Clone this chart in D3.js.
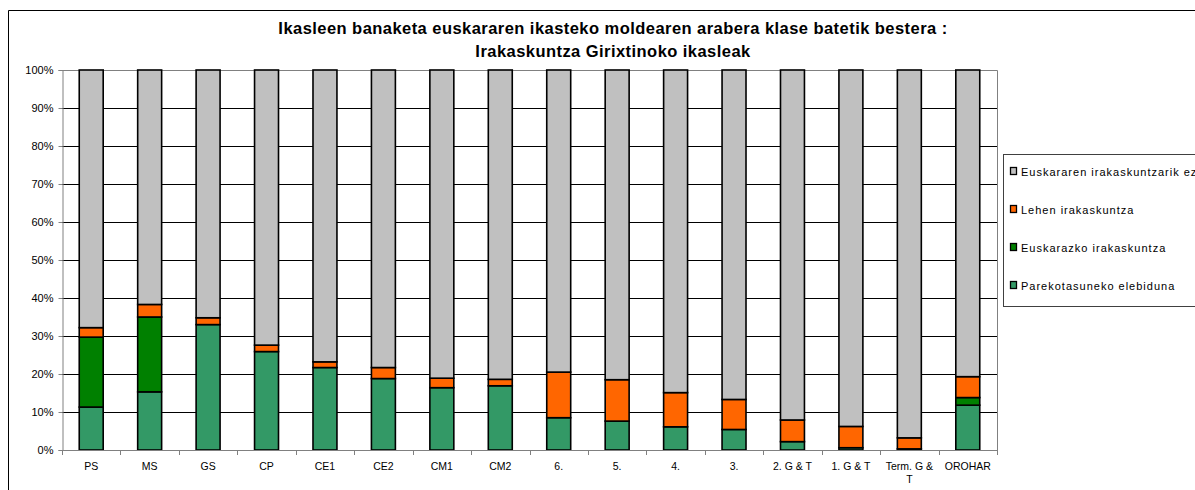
<!DOCTYPE html>
<html>
<head>
<meta charset="utf-8">
<script src="https://cdn.jsdelivr.net/npm/d3@7"></script>
<style>
  body { margin: 0; background: #fff; }
  text { font-family: Arial, "Liberation Sans", sans-serif; }
</style>
</head>
<body>
<script>
// categories (classes)
var categories = ["PS", "MS", "GS", "CP", "CE1", "CE2", "CM1", "CM2", "6.", "5.", "4.", "3.",
  "2. G & T", "1. G & T", "Term. G & T", "OROHAR"];
// series values in % (bottom to top)
var parekotasuneko = [11.3, 15.3, 33.0, 25.9, 21.7, 18.8, 16.4, 16.9, 8.5, 7.6, 6.1, 5.4, 2.2, 0.6, 0.3, 11.8];
var euskarazko     = [18.4, 19.7, 0, 0, 0, 0, 0, 0, 0, 0, 0, 0, 0, 0, 0, 2.0];
var lehen          = [2.5, 3.3, 1.8, 1.7, 1.5, 2.9, 2.5, 1.7, 12.0, 10.9, 9.0, 7.9, 5.7, 5.6, 2.9, 5.5];
var seriesNames = ["Parekotasuneko elebiduna", "Euskarazko irakaskuntza", "Lehen irakaskuntza", "Euskararen irakaskuntzarik ez"];
var seriesColors = ["#339966", "#008000", "#FF6600", "#C0C0C0"];
var yTicks = [0, 10, 20, 30, 40, 50, 60, 70, 80, 90, 100];

var w = 1195, h = 490;
var pLeft = 62, pRight = 997, pTop = 70, pBottom = 450;

var svg = d3.select("body").append("svg")
  .attr("width", w)
  .attr("height", h);

// outer chart frame (runs off the right and bottom edges)
svg.append("path")
  .attr("d", "M8.5," + (h + 5) + "V10.5H" + (w + 5))
  .attr("fill", "none")
  .attr("stroke", "#000")
  .attr("stroke-width", 1);

// title
var title = svg.append("text")
  .attr("text-anchor", "middle")
  .attr("font-weight", "bold")
  .attr("font-size", "16.5px")
  .attr("letter-spacing", "0.45px")
  .attr("fill", "#000");
title.append("tspan").attr("x", 613).attr("y", 34)
  .text("Ikasleen banaketa euskararen ikasteko moldearen arabera klase batetik bestera :");
title.append("tspan").attr("x", 613).attr("y", 57)
  .text("Irakaskuntza Girixtinoko ikasleak");

// build rows (4th series = rest to 100%)
var rows = categories.map(function(c, i) {
  var rest = 100 - parekotasuneko[i] - euskarazko[i] - lehen[i];
  return { cat: c, s0: parekotasuneko[i], s1: euskarazko[i], s2: lehen[i], s3: rest };
});
var stack = d3.stack().keys(["s0", "s1", "s2", "s3"]);
var stacked = stack(rows);

var x = d3.scaleBand().domain(categories).range([pLeft, pRight]).paddingInner(0.59).paddingOuter(0.295);
var xBand = d3.scaleBand().domain(categories).range([pLeft, pRight]);
var y = d3.scaleLinear().domain([0, 100]).range([pBottom, pTop]);

// gridlines
svg.append("g")
  .selectAll("line")
  .data(yTicks.slice(1, -1))
  .enter()
  .append("line")
  .attr("x1", pLeft)
  .attr("x2", pRight)
  .attr("y1", function(d) { return Math.round(y(d)) + 0.5; })
  .attr("y2", function(d) { return Math.round(y(d)) + 0.5; })
  .attr("stroke", "#000")
  .attr("stroke-width", 1);

// plot area border top & right
svg.append("path")
  .attr("d", "M" + pLeft + "," + (pTop + 0.5) + "H" + (pRight + 0.5) + "V" + pBottom)
  .attr("fill", "none")
  .attr("stroke", "#808080")
  .attr("stroke-width", 1);

// bars
svg.append("g")
  .selectAll("g")
  .data(stacked)
  .enter()
  .append("g")
  .attr("fill", function(d, i) { return seriesColors[i]; })
  .selectAll("rect")
  .data(function(d) { return d.filter(function(p) { return p[1] - p[0] > 0; }); })
  .enter()
  .append("rect")
  .attr("x", function(d) { return x(d.data.cat); })
  .attr("width", x.bandwidth())
  .attr("y", function(d) { return y(d[1]); })
  .attr("height", function(d) { return y(d[0]) - y(d[1]); })
  .attr("stroke", "#000")
  .attr("stroke-width", 1.6);

// y axis
var yAxis = d3.axisLeft(y)
  .tickValues(yTicks)
  .tickSize(4)
  .tickPadding(5)
  .tickFormat(function(d) { return d + "%"; });
var gy = svg.append("g")
  .attr("transform", "translate(" + (pLeft + 0.5) + ",0)")
  .call(yAxis);
gy.select(".domain").attr("stroke", "#808080");
gy.selectAll(".tick line").attr("stroke", "#808080");
gy.selectAll(".tick text")
  .attr("font-size", "11px")
  .attr("font-family", "Arial, 'Liberation Sans', sans-serif")
  .attr("fill", "#000");

// x axis
var xAxis = d3.axisBottom(xBand).tickSize(0).tickPadding(12);
var gx = svg.append("g")
  .attr("transform", "translate(0," + (pBottom + 0.5) + ")")
  .call(xAxis);
gx.select(".domain").attr("stroke", "#808080").attr("d", "M" + pLeft + ",0H" + (pRight + 0.5));
gx.selectAll(".tick text")
  .attr("font-size", "10.5px")
  .attr("font-family", "Arial, 'Liberation Sans', sans-serif")
  .attr("fill", "#000")
  .each(function(d) {
    if (d === "Term. G & T") {
      var t = d3.select(this);
      t.text(null);
      t.append("tspan").attr("x", 0).attr("dy", "0.71em").text("Term. G &");
      t.append("tspan").attr("x", 0).attr("dy", "1.25em").text("T");
      t.attr("dy", null);
    }
  });
// tick marks at band boundaries
svg.append("g")
  .selectAll("line")
  .data(categories.concat(["end"]))
  .enter()
  .append("line")
  .attr("x1", function(d, i) { return Math.round(pLeft + i * xBand.step()) + 0.5; })
  .attr("x2", function(d, i) { return Math.round(pLeft + i * xBand.step()) + 0.5; })
  .attr("y1", pBottom)
  .attr("y2", pBottom + 5)
  .attr("stroke", "#808080");

// legend
var lg = svg.append("g");
lg.append("rect")
  .attr("x", 1003.5)
  .attr("y", 154.5)
  .attr("width", 220)
  .attr("height", 152)
  .attr("fill", "#fff")
  .attr("stroke", "#404040");
var legendOrder = [3, 2, 1, 0];
var items = lg.selectAll("g.item")
  .data(legendOrder)
  .enter()
  .append("g")
  .attr("class", "item")
  .attr("transform", function(d, i) { return "translate(1010," + (172 + i * 38) + ")"; });
items.append("rect")
  .attr("x", 0.5)
  .attr("y", -4.5)
  .attr("width", 6)
  .attr("height", 7)
  .attr("fill", function(d) { return seriesColors[d]; })
  .attr("stroke", "#000")
  .attr("stroke-width", 1.3);
items.append("text")
  .attr("x", 11)
  .attr("y", 4)
  .attr("font-size", "11px")
  .attr("letter-spacing", "1px")
  .attr("fill", "#000")
  .text(function(d) { return seriesNames[d]; });
</script>
</body>
</html>
